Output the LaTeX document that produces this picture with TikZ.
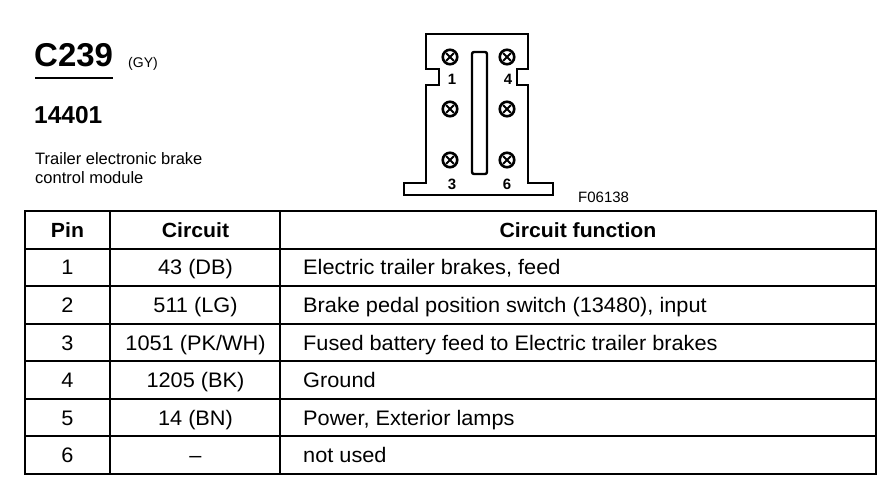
\documentclass[tikz,border=0pt]{standalone}
\usepackage{fontspec}
\setmainfont{Liberation Sans}
\newfontfamily\bodyfont{Liberation Sans}[FakeStretch=1.035,Ligatures=TeX]
\begin{document}
\begin{tikzpicture}[x=1pt,y=-1pt,
  grid/.style={line width=2pt},
  frame/.style={line width=2.6pt},
  body/.style={inner sep=0pt,anchor=base,font=\bodyfont\fontsize{21}{23}\selectfont},
  bodyl/.style={body,anchor=base west},
  head/.style={inner sep=0pt,anchor=base,font=\bodyfont\fontsize{20.5}{23}\selectfont\bfseries},
  pinlbl/.style={inner sep=0pt,font=\fontsize{15}{17}\selectfont\bfseries},
  outline/.style={line width=2.6pt,line join=miter},
  pinsym/.style={circle,draw,line width=2.6pt,minimum size=14.5pt,inner sep=0pt,
    path picture={\draw[line width=2pt]
      ([xshift=-3.8pt,yshift=3.8pt]path picture bounding box.center) -- ([xshift=3.8pt,yshift=-3.8pt]path picture bounding box.center)
      ([xshift=-3.8pt,yshift=-3.8pt]path picture bounding box.center) -- ([xshift=3.8pt,yshift=3.8pt]path picture bounding box.center);}}
]
\useasboundingbox (0,0) rectangle (896,480);
\fill[white] (0,0) rectangle (896,480);

% ---- header texts ----
\node[anchor=base west,inner sep=0pt,font=\fontsize{33}{35}\selectfont\bfseries] (c239) at (34,66) {C239};
\draw[line width=2pt] (35,78) -- (113,78);
\node[anchor=base west,inner sep=0pt,font=\fontsize{14}{16}\selectfont] (gy) at (128,67) {(GY)};
\node[anchor=base west,inner sep=0pt,font=\fontsize{24.5}{26}\selectfont\bfseries] (num) at (34,123) {14401};
\node[anchor=base west,inner sep=0pt,font=\fontsize{16.5}{18}\selectfont] (desc1) at (35,164) {Trailer electronic brake};
\node[anchor=base west,inner sep=0pt,font=\fontsize{16.5}{18}\selectfont] (desc2) at (35,183) {control module};

% ---- connector ----
\draw[outline] (426,34) -- (528,34) -- (528,69) -- (517,69) -- (517,85) -- (528,85)
  -- (528,183) -- (553,183) -- (553,195) -- (404,195) -- (404,183) -- (426,183)
  -- (426,85) -- (439,85) -- (439,69) -- (426,69) -- cycle;
\draw[line width=2.4pt,rounded corners=2pt] (472,52) rectangle (487,174);
\node[pinsym] (p1) at (450,57) {};
\node[pinsym] (p2) at (450,109) {};
\node[pinsym] (p3) at (450,160) {};
\node[pinsym] (p4) at (507,57) {};
\node[pinsym] (p5) at (507,109) {};
\node[pinsym] (p6) at (507,160) {};
\node[pinlbl] (l1) at (452,79) {1};
\node[pinlbl] (l4) at (508,79) {4};
\node[pinlbl] (l3) at (452,184) {3};
\node[pinlbl] (l6) at (507,184) {6};
\node[anchor=west,inner sep=0pt,font=\fontsize{15}{17}\selectfont] (fig) at (578,197) {F06138};

% ---- table ----
\draw[frame] (25,211) rectangle (876,474);
\foreach \y in {248.6,286.1,323.7,361.3,398.9,436.4} \draw[grid] (25,\y) -- (876,\y);
\draw[grid] (110,211) -- (110,474);
\draw[grid] (280,211) -- (280,474);

\node[head] (hpin) at (67.5,237) {Pin};
\node[head] (hcir) at (195.5,237) {Circuit};
\node[head] (hfun) at (578,237) {Circuit function};

\node[body] (pin1) at (67.5,274.8) {1};
\node[body] (cir1) at (195.5,274.8) {43 (DB)};
\node[bodyl] (fun1) at (303,274.8) {Electric trailer brakes, feed};

\node[body] (pin2) at (67.5,312.4) {2};
\node[body] (cir2) at (195.5,312.4) {511 (LG)};
\node[bodyl] (fun2) at (303,312.4) {Brake pedal position switch (13480), input};

\node[body] (pin3) at (67.5,350) {3};
\node[body] (cir3) at (195.5,350) {1051 (PK/WH)};
\node[bodyl] (fun3) at (303,350) {Fused battery feed to Electric trailer brakes};

\node[body] (pin4) at (67.5,387.6) {4};
\node[body] (cir4) at (195.5,387.6) {1205 (BK)};
\node[bodyl] (fun4) at (303,387.6) {Ground};

\node[body] (pin5) at (67.5,425.1) {5};
\node[body] (cir5) at (195.5,425.1) {14 (BN)};
\node[bodyl] (fun5) at (303,425.1) {Power, Exterior lamps};

\node[body] (pin6) at (67.5,462.7) {6};
\node[body] (cir6) at (195.5,462.7) {–};
\node[bodyl] (fun6) at (303,462.7) {not used};
\end{tikzpicture}
\end{document}
